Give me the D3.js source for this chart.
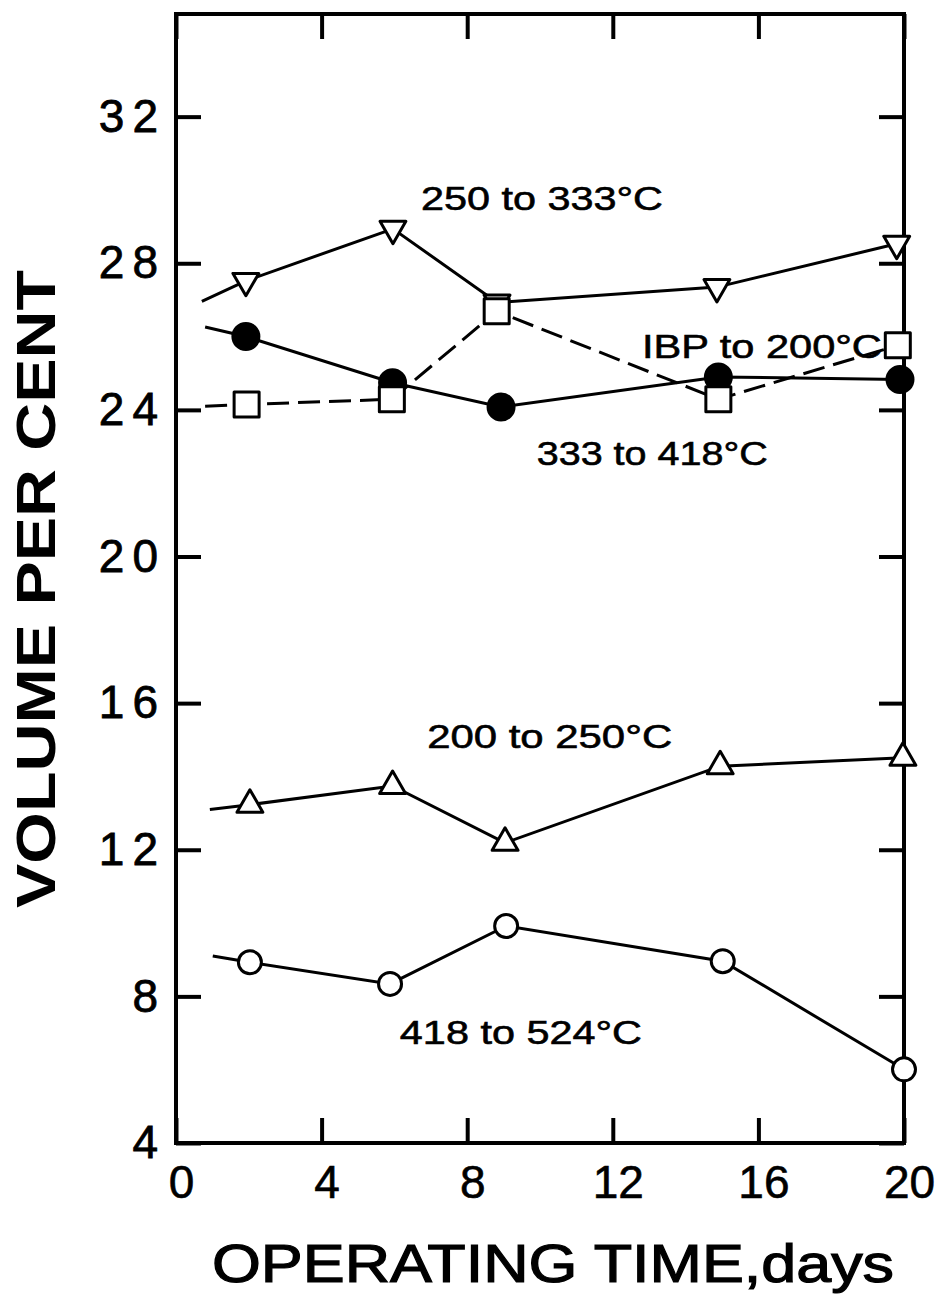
<!DOCTYPE html>
<html>
<head>
<meta charset="utf-8">
<script src="https://cdn.jsdelivr.net/npm/d3@7"></script>
<style>
  body { margin: 0; background: #fff; }
  svg { display: block; }
</style>
</head>
<body>
<div id="chart"></div>
<script>
// ---- data ----
const seriesNames = ["250 to 333°C", "333 to 418°C", "IBP to 200°C", "200 to 250°C", "418 to 524°C"];

// first point of every series is the un-marked start of the line
const days250 = [0.71, 1.92, 5.96, 8.82, 14.86, 19.8];
const vol250  = [26.96, 27.52, 28.94, 26.93, 27.35, 28.53];

const days333 = [0.8, 1.92, 5.95, 8.93, 14.9, 19.89];
const vol333  = [26.26, 26.0, 24.74, 24.08, 24.9, 24.83];

const daysIBP = [0.8, 1.94, 5.93, 8.81, 14.9, 19.83];
const volIBP  = [24.1, 24.15, 24.29, 26.69, 24.29, 25.76];

const days200 = [0.93, 2.03, 5.95, 9.04, 14.95, 19.97];
const vol200  = [13.1, 13.23, 13.74, 12.19, 14.28, 14.51];

const days418 = [1.01, 2.03, 5.88, 9.07, 15.02, 20.0];
const vol418  = [9.1, 8.93, 8.34, 9.92, 8.96, 6.01];

const xTicks = [0, 4, 8, 12, 16, 20];
const yTicks = [4, 8, 12, 16, 20, 24, 28, 32];
const xTitle = "OPERATING TIME,days";
const yTitle = "VOLUME PER CENT";

// ---- layout ----
const W = 938, H = 1299;
const plot = { left: 176, right: 904, top: 14, bottom: 1143 };

const svg = d3.select('#chart').append('svg')
    .attr('width', W)
    .attr('height', H)
    .attr('viewBox', `0 0 ${W} ${H}`);

const x = d3.scaleLinear().domain([0, 20]).range([plot.left, plot.right]);
const y = d3.scaleLinear().domain([4, 34.8]).range([plot.bottom, plot.top]);

const tickLen = 25;
const font = "'Liberation Sans', Arial, sans-serif";

// axes: inward ticks on all four sides
const gx = svg.append('g')
    .attr('transform', `translate(0,${plot.bottom})`)
    .call(d3.axisBottom(x).tickValues(xTicks).tickSize(-tickLen).tickPadding(22));
const gxTop = svg.append('g')
    .attr('transform', `translate(0,${plot.top})`)
    .call(d3.axisTop(x).tickValues(xTicks).tickSize(-tickLen).tickFormat(''));
const gy = svg.append('g')
    .attr('transform', `translate(${plot.left},0)`)
    .call(d3.axisLeft(y).tickValues(yTicks).tickSize(-tickLen).tickPadding(10));
const gyRight = svg.append('g')
    .attr('transform', `translate(${plot.right},0)`)
    .call(d3.axisRight(y).tickValues(yTicks).tickSize(-tickLen).tickFormat(''));

[gx, gxTop, gy, gyRight].forEach(g => {
    g.select('.domain').remove();
    g.selectAll('.tick line').attr('stroke', '#000').attr('stroke-width', 4);
});

gx.selectAll('text')
    .attr('font-family', font)
    .attr('font-size', 46)
    .attr('dx', 5)
    .attr('fill', '#000')
    .attr('stroke', '#000')
    .attr('stroke-width', 0.6);

gy.selectAll('text')
    .attr('font-family', font)
    .attr('font-size', 46)
    .attr('fill', '#000')
    .attr('stroke', '#000')
    .attr('stroke-width', 0.8)
    .style('letter-spacing', '8px');

// frame
svg.append('rect')
    .attr('x', plot.left)
    .attr('y', plot.top)
    .attr('width', plot.right - plot.left)
    .attr('height', plot.bottom - plot.top)
    .attr('fill', 'none')
    .attr('stroke', '#000')
    .attr('stroke-width', 4);

// ---- series ----
const series = [
    { name: seriesNames[0], days: days250, vals: vol250, marker: 'tri-down', dash: null },
    { name: seriesNames[1], days: days333, vals: vol333, marker: 'dot', dash: null },
    { name: seriesNames[2], days: daysIBP, vals: volIBP, marker: 'square', dash: '22,9' },
    { name: seriesNames[3], days: days200, vals: vol200, marker: 'tri-up', dash: null },
    { name: seriesNames[4], days: days418, vals: vol418, marker: 'ring', dash: null }
];

const line = d3.line()
    .x(d => x(d[0]))
    .y(d => y(d[1]));

series.forEach(s => {
    const pts = s.days.map((d, i) => [d, s.vals[i]]);
    svg.append('path')
        .datum(pts)
        .attr('d', line)
        .attr('fill', 'none')
        .attr('stroke', '#000')
        .attr('stroke-width', 3)
        .attr('stroke-dasharray', s.dash);
});

// markers drawn after all lines so they sit on top
series.forEach(s => {
    const pts = s.days.map((d, i) => [d, s.vals[i]]).slice(1);
    const g = svg.append('g');
    if (s.marker === 'dot' || s.marker === 'ring') {
        g.selectAll('circle')
            .data(pts)
            .enter().append('circle')
            .attr('cx', d => x(d[0]))
            .attr('cy', d => y(d[1]))
            .attr('r', s.marker === 'dot' ? 13 : 11.5)
            .attr('fill', s.marker === 'dot' ? '#000' : '#fff')
            .attr('stroke', '#000')
            .attr('stroke-width', 3);
    } else {
        const sym = s.marker === 'square'
            ? d3.symbol().type(d3.symbolSquare).size(25 * 25)
            : d3.symbol().type(d3.symbolTriangle).size(290);
        const rot = s.marker === 'tri-down' ? ' rotate(180)' : '';
        g.selectAll('path')
            .data(pts)
            .enter().append('path')
            .attr('d', sym)
            .attr('transform', d => `translate(${x(d[0])},${y(d[1])})${rot}`)
            .attr('fill', '#fff')
            .attr('stroke', '#000')
            .attr('stroke-width', 3)
            .attr('stroke-linejoin', 'round');
    }
});

// ---- curve labels (anchor in data units, text length in px) ----
const labelPos = [
    { day: 6.73, val: 29.44, len: 242 },
    { day: 9.91, val: 22.49, len: 231 },
    { day: 12.8, val: 25.41, len: 240 },
    { day: 6.9, val: 14.78, len: 245 },
    { day: 6.15, val: 6.7, len: 242 }
];

svg.append('g')
    .selectAll('text')
    .data(labelPos)
    .enter().append('text')
    .attr('x', d => x(d.day))
    .attr('y', d => y(d.val))
    .attr('font-family', font)
    .attr('font-size', 34)
    .attr('stroke', '#000')
    .attr('stroke-width', 0.6)
    .attr('textLength', d => d.len)
    .attr('lengthAdjust', 'spacingAndGlyphs')
    .text((d, i) => seriesNames[i]);

// ---- axis titles ----
svg.append('text')
    .attr('x', 212)
    .attr('y', 1282)
    .attr('font-family', font)
    .attr('font-size', 54)
    .attr('stroke', '#000')
    .attr('stroke-width', 1.2)
    .attr('textLength', 682)
    .attr('lengthAdjust', 'spacingAndGlyphs')
    .text(xTitle);

svg.append('text')
    .attr('transform', 'translate(55,589) rotate(-90)')
    .attr('text-anchor', 'middle')
    .attr('font-family', font)
    .attr('font-size', 56)
    .attr('font-weight', 'bold')
    .attr('textLength', 638)
    .attr('lengthAdjust', 'spacingAndGlyphs')
    .text(yTitle);
</script>
</body>
</html>
